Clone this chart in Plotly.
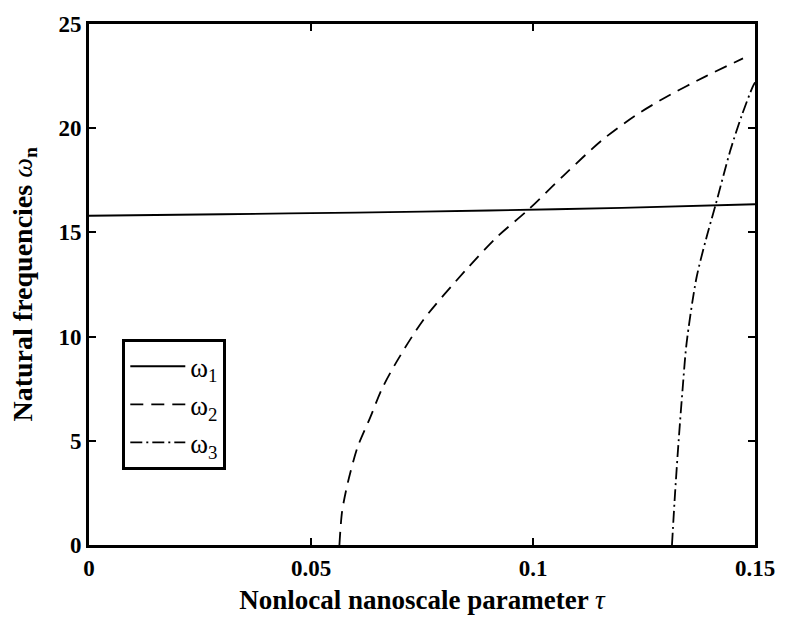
import plotly.graph_objects as go

# data
tau1 = [0.0, 0.03, 0.06, 0.09, 0.12, 0.15]
w1 = [15.8, 15.87, 15.95, 16.05, 16.18, 16.35]

tau2 = [0.0564, 0.0570, 0.0583, 0.0605, 0.0633, 0.0660, 0.0693, 0.0753, 0.0849, 0.0920,
        0.0990, 0.1070, 0.1154, 0.1230, 0.1300, 0.1390, 0.1473]
w2 = [0.0, 1.6, 3.0, 4.7, 6.1, 7.5, 8.8, 10.8, 13.2, 14.8,
      16.1, 17.75, 19.4, 20.6, 21.5, 22.5, 23.35]

tau3 = [0.1313, 0.1320, 0.1328, 0.1337, 0.1346, 0.1368, 0.1390, 0.1411, 0.1444, 0.1470, 0.1495, 0.1500]
w3 = [0.0, 2.5, 5.0, 7.5, 9.7, 12.8, 14.7, 16.3, 18.9, 20.6, 22.0, 22.2]

names = ["ω<sub>1</sub>", "ω<sub>2</sub>", "ω<sub>3</sub>"]
dashes = ["solid", "13px,8px", "12px,4px,2px,4px"]

xticks = [0, 0.05, 0.1, 0.15]
xticklabels = ["0", "0.05", "0.1", "0.15"]
yticks = [0, 5, 10, 15, 20, 25]

fig = go.Figure()
for i, (x, y) in enumerate([(tau1, w1), (tau2, w2), (tau3, w3)]):
    fig.add_trace(go.Scatter(
        x=x, y=y, mode="lines", name=names[i], legendgroup=str(i),
        line=dict(color="black", width=1.8, dash=dashes[i], shape="spline", smoothing=0.8),
    ))

serif = "Liberation Serif, Times New Roman, serif"
fig.update_layout(
    width=787, height=622,
    margin=dict(l=89, r=25, t=16, b=75),
    paper_bgcolor="white", plot_bgcolor="white",
    font=dict(family=serif, color="black"),
    showlegend=True,
    legend=dict(
        x=0.05, y=0.395, xanchor="left", yanchor="top",
        bordercolor="black", borderwidth=3, bgcolor="white",
        font=dict(family=serif, size=27, color="black"),
        traceorder="grouped", tracegroupgap=0, itemwidth=55,
    ),
    xaxis=dict(
        range=[0, 0.15], tickvals=xticks, ticktext=[f"<b>{t}</b>" for t in xticklabels],
        ticks="inside", ticklen=7, tickwidth=2, tickcolor="black",
        showline=True, linewidth=3, linecolor="black", mirror="allticks",
        showgrid=False, zeroline=False,
        tickfont=dict(family=serif, size=23, color="black"),
        title=dict(text="<b>Nonlocal nanoscale parameter </b><i>τ</i>",
                   font=dict(family=serif, size=27, color="black"), standoff=11),
    ),
    yaxis=dict(
        range=[0, 25], tickvals=yticks, ticktext=[f"<b>{t}</b>" for t in yticks],
        ticks="inside", ticklen=7, tickwidth=2, tickcolor="black",
        showline=True, linewidth=3, linecolor="black", mirror="allticks",
        showgrid=False, zeroline=False,
        tickfont=dict(family=serif, size=23, color="black"),
    ),
    annotations=[dict(
        text="<b>Natural frequencies </b><i>ω</i><sub><b>n</b></sub>",
        xref="paper", yref="paper", x=0, y=0.5, xanchor="center", yanchor="middle",
        xshift=-65, textangle=-90, showarrow=False,
        font=dict(family=serif, size=28, color="black"),
    )],
)

fig.write_html("out.html")
